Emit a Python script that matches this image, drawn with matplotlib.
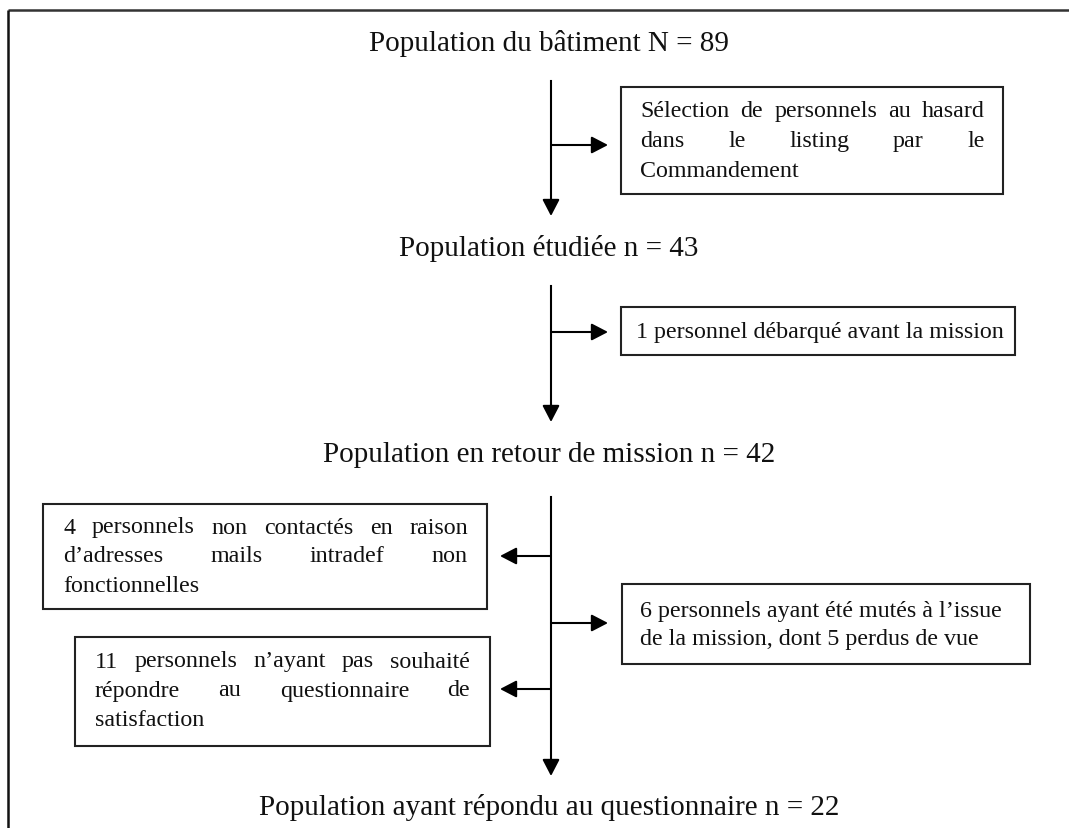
import matplotlib
matplotlib.use("Agg")
import matplotlib.pyplot as plt
from matplotlib.patches import Rectangle

W, H = 1069, 829
FONT = "Liberation Serif"
TITLE_SIZE = 21
BOX_SIZE = 17.3

# ---- content ----
stage_titles = [
    "Population du bâtiment N = 89",
    "Population étudiée n = 43",
    "Population en retour de mission n = 42",
    "Population ayant répondu au questionnaire n = 22",
]
box_selection = ["Sélection de personnels au hasard", "dans le listing par le", "Commandement"]
box_debarque = ["1 personnel débarqué avant la mission"]
box_mails = ["4 personnels non contactés en raison", "d’adresses mails intradef non", "fonctionnelles"]
box_mutes = ["6 personnels ayant été mutés à l’issue", "de la mission, dont 5 perdus de vue"]
box_refus = ["11 personnels n’ayant pas souhaité", "répondre au questionnaire de", "satisfaction"]

fig = plt.figure(figsize=(W / 100, H / 100), dpi=100)
ax = fig.add_axes([0, 0, 1, 1])
ax.set_xlim(0, W)
ax.set_ylim(H, 0)
ax.axis("off")
renderer = fig.canvas.get_renderer()

LW = 1.5
# outer frame (cut on right/bottom)
ax.plot([8, W + 5], [11, 11], color="#333333", lw=1.8, solid_capstyle="butt")
ax.plot([8, 8], [11, H + 5], color="#111111", lw=1.8, solid_capstyle="butt")

CX = 551
title_y = [43, 248, 455, 808]
for t, y in zip(stage_titles, title_y):
    ax.text(549, y, t, ha="center", va="center", fontsize=TITLE_SIZE, family=FONT, color="#111111")


def arrow(x0, y0, x1, y1):
    ax.annotate("", xy=(x1, y1), xytext=(x0, y0),
                arrowprops=dict(arrowstyle="-|>,head_length=0.5,head_width=0.26",
                                mutation_scale=20, lw=LW, color="black",
                                shrinkA=0, shrinkB=0))


def box(x0, x1, y0, y1):
    ax.add_patch(Rectangle((x0, y0), x1 - x0, y1 - y0, fill=False, lw=1.5, edgecolor="#222222"))


def word_width(w):
    t = ax.text(0, 0, w, fontsize=BOX_SIZE, family=FONT)
    bb = t.get_window_extent(renderer=renderer)
    t.remove()
    return bb.width


def write_lines(lines, xl, xr, ys, justify_upto):
    for i, (line, y) in enumerate(zip(lines, ys)):
        words = line.split(" ")
        if i < justify_upto and len(words) > 1:
            widths = [word_width(w) for w in words]
            gap = (xr - xl - sum(widths)) / (len(words) - 1)
            x = xl
            for w, wd in zip(words, widths):
                ax.text(x, y, w, ha="left", va="center", fontsize=BOX_SIZE, family=FONT, color="#111111")
                x += wd + gap
        else:
            ax.text(xl, y, line, ha="left", va="center", fontsize=BOX_SIZE, family=FONT, color="#111111")


# segment 1
ax.plot([CX, CX], [82, 205], color="black", lw=LW)
arrow(CX, 200, CX, 217)
arrow(CX, 146, 608, 146)
box(621, 1003, 88, 195)
write_lines(box_selection, 640, 985, [111, 141, 171], 2)

# segment 2
ax.plot([CX, CX], [287, 410], color="black", lw=LW)
arrow(CX, 405, CX, 423)
arrow(CX, 333, 608, 333)
box(621, 1015, 308, 356)
ax.text(820, 332, box_debarque[0], ha="center", va="center", fontsize=BOX_SIZE, family=FONT, color="#111111")

# segment 3
ax.plot([CX, CX], [498, 765], color="black", lw=LW)
arrow(CX, 760, CX, 777)
arrow(CX, 557, 500, 557)
box(43, 487, 505, 610)
write_lines(box_mails, 63, 468, [528, 557, 586], 2)

arrow(CX, 624, 608, 624)
box(622, 1030, 585, 665)
write_lines(box_mutes, 640, 1015, [611, 640], 0)

arrow(CX, 690, 500, 690)
box(75, 490, 638, 747)
write_lines(box_refus, 95, 470, [662, 691, 720], 2)

fig.savefig("out.png", dpi=100)
